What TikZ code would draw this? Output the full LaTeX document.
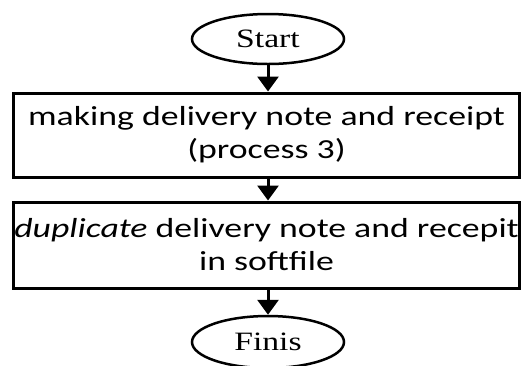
\documentclass[tikz,border=0pt]{standalone}
\usepackage{fontspec}
\usetikzlibrary{shapes.geometric,arrows.meta}
\newfontfamily\boxfont[FakeStretch=1.3]{Carlito}
\newfontfamily\termfont[FakeStretch=1.27]{Liberation Serif}
\begin{document}
\begin{tikzpicture}[x=1pt,y=-1pt,
  termbox/.style={draw, ellipse, line width=2.5pt, minimum width=152pt, minimum height=50pt, inner sep=0pt,
    font=\termfont\fontsize{26.5}{30}\selectfont},
  procbox/.style={draw, rectangle, line width=3pt, minimum width=506pt, inner sep=0pt, align=center,
    font=\boxfont\fontsize{27.5}{33}\selectfont},
  flow/.style={line width=3pt, -{Triangle[width=21pt,length=15pt]}}]
\useasboundingbox (0,0) rectangle (521,365);
\node[termbox] (start) at (268,39) {Start};
\node[procbox, minimum height=84pt] (p1) at (266.5,135) {making delivery note and receipt\\(process 3)};
\node[procbox, minimum height=86pt] (p2) at (266.5,245) {\textit{duplicate} delivery note and recepit\\in softfile};
\node[termbox, minimum height=52pt] (finis) at (268,342) {Finis};
\draw[flow] (start.south) -- (start.south |- p1.north);
\draw[flow] (start.south |- p1.south) -- (start.south |- p2.north);
\draw[flow] (start.south |- p2.south) -- (finis.north);
\end{tikzpicture}
\end{document}
